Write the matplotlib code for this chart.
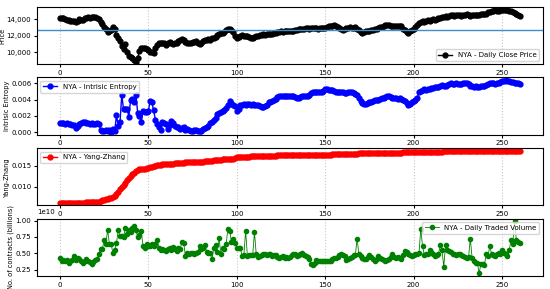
import numpy as np
import matplotlib
matplotlib.use("Agg")
import matplotlib.pyplot as plt
from matplotlib.ticker import StrMethodFormatter, MultipleLocator

# NYA daily series
price = [
    14150, 14120, 14150, 14050, 13950, 13880, 13850, 13870, 13800, 13700,
    13850, 14000, 13900, 13950, 14150, 14200, 14250, 14200, 14280, 14250,
    14250, 14200, 14000, 13700, 13400, 13100, 12800, 12500, 12600, 12750,
    13100, 12800, 12100, 11700, 11400, 10800, 10400, 11000, 10000, 9600,
    9500, 9300, 9100, 8880, 9300, 10200, 10600, 10500, 10500, 10400,
    10300, 10000, 10100, 9900, 10600, 10900, 11100, 11200, 11100, 11200,
    10900, 11100, 11300, 11100, 11000, 11100, 11200, 11400, 11500, 11600,
    11450, 11300, 11100, 11100, 11200, 11250, 11300, 11400, 11150, 11000,
    11100, 11400, 11450, 11500, 11600, 11550, 11700, 11800, 11900, 12100,
    12200, 12300, 12400, 12500, 12700, 12800, 12900, 12750, 12500, 12000,
    11750, 11850, 12050, 12100, 12000, 11950, 12000, 11900, 11800, 11700,
    11850, 12000, 12050, 12100, 12150, 12200, 12150, 12200, 12250, 12200,
    12200, 12300, 12350, 12450, 12500, 12550, 12500, 12550, 12600, 12550,
    12600, 12550, 12650, 12700, 12750, 12800, 12850, 12900, 12850, 12950,
    12950, 12900, 12950, 13000, 12950, 12950, 12900, 12950, 13000, 12950,
    13000, 13100, 13150, 13200, 13250, 13350, 13200, 13050, 12950, 12900,
    12750, 12850, 12950, 13000, 13050, 13000, 12950, 13050, 12900, 12700,
    12500, 12350, 12450, 12550, 12600, 12650, 12700, 12750, 12800, 12900,
    13000, 13050, 13100, 13200, 13300, 13350, 13300, 13250, 13200, 13250,
    13200, 13250, 13200, 13150, 12900, 12700, 12500, 12400, 12550, 12750,
    12850, 13100, 13350, 13550, 13700, 13800, 13750, 13850, 13900, 13850,
    13950, 14000, 13950, 14100, 14200, 14150, 14250, 14300, 14400, 14350,
    14450, 14550, 14500, 14450, 14500, 14550, 14500, 14450, 14500, 14550,
    14600, 14550, 14450, 14500, 14550, 14550, 14500, 14550, 14600, 14600,
    14650, 14700, 14900, 14950, 15050, 15050, 15100, 15000, 15050, 15100,
    15100, 15150, 15200, 15100, 15050, 15000, 14900, 14800, 14700, 14550,
    14450,
]
price_line = 12760

entropy = [
    0.0011, 0.0011, 0.0011, 0.0010, 0.0011, 0.0010, 0.0010, 0.0009, 0.0009, 0.0005,
    0.0008, 0.0010, 0.0011, 0.0012, 0.0012, 0.0011, 0.0011, 0.0010, 0.0011, 0.0010,
    0.0010, 0.0011, 0.0010, 0.0003, 0.0002, 0.0002, 0.0003, 0.0002, 0.0003, 0.0000,
    0.0004, 0.0001, 0.0021, 0.0008, 0.0012, 0.0046, 0.0028, 0.0028, 0.0029, 0.0019,
    0.0040, 0.0041, 0.0037, 0.0046, 0.0024, 0.0020, 0.0012, 0.0026, 0.0025, 0.0025,
    0.0026, 0.0038, 0.0037, 0.0027, 0.0015, 0.0010, 0.0006, 0.0003, 0.0012, 0.0011,
    0.0010, 0.0004, 0.0009, 0.0014, 0.0011, 0.0008, 0.0006, 0.0007, 0.0004, 0.0005,
    0.0007, 0.0003, 0.0004, 0.0003, 0.0002, 0.0002, 0.0003, 0.0003, 0.0001, 0.0001,
    0.0002, 0.0004, 0.0005, 0.0006, 0.0008, 0.0011, 0.0012, 0.0015, 0.0018, 0.0022,
    0.0024, 0.0025, 0.0026, 0.0027, 0.0030, 0.0034, 0.0038, 0.0036, 0.0034, 0.0032,
    0.0026, 0.0029, 0.0033, 0.0034, 0.0035, 0.0034, 0.0035, 0.0035, 0.0034, 0.0035,
    0.0034, 0.0034, 0.0033, 0.0032, 0.0031, 0.0031, 0.0032, 0.0034, 0.0037, 0.0037,
    0.0038, 0.0039, 0.0041, 0.0043, 0.0044, 0.0045, 0.0045, 0.0045, 0.0044, 0.0045,
    0.0045, 0.0044, 0.0045, 0.0043, 0.0042, 0.0042, 0.0043, 0.0044, 0.0044, 0.0044,
    0.0044, 0.0046, 0.0048, 0.0050, 0.0050, 0.0049, 0.0049, 0.0049, 0.0050, 0.0051,
    0.0053, 0.0053, 0.0052, 0.0052, 0.0052, 0.0051, 0.0050, 0.0050, 0.0050, 0.0050,
    0.0049, 0.0048, 0.0048, 0.0049, 0.0049, 0.0049, 0.0048, 0.0047, 0.0046, 0.0042,
    0.0038, 0.0036, 0.0035, 0.0035, 0.0036, 0.0037, 0.0037, 0.0038, 0.0039, 0.0040,
    0.0040, 0.0041, 0.0042, 0.0042, 0.0043, 0.0044, 0.0044, 0.0043, 0.0042, 0.0042,
    0.0042, 0.0041, 0.0042, 0.0041, 0.0040, 0.0038, 0.0036, 0.0034, 0.0035, 0.0037,
    0.0038, 0.0040, 0.0042, 0.0049, 0.0051, 0.0052, 0.0053, 0.0052, 0.0053, 0.0053,
    0.0054, 0.0054, 0.0055, 0.0055, 0.0056, 0.0057, 0.0058, 0.0057, 0.0057, 0.0058,
    0.0059, 0.0060, 0.0059, 0.0059, 0.0060, 0.0059, 0.0059, 0.0059, 0.0060, 0.0060,
    0.0060, 0.0059, 0.0057, 0.0057, 0.0056, 0.0057, 0.0056, 0.0056, 0.0057, 0.0057,
    0.0057, 0.0058, 0.0059, 0.0060, 0.0060, 0.0060, 0.0059, 0.0060, 0.0061, 0.0062,
    0.0063, 0.0063, 0.0064, 0.0063, 0.0063, 0.0062, 0.0062, 0.0061, 0.0061, 0.0060,
    0.0059,
]

yang_zhang = [
    0.0061, 0.0061, 0.0061, 0.0061, 0.0061, 0.0061, 0.0061, 0.0061, 0.0061, 0.0061,
    0.0061, 0.0061, 0.0061, 0.0061, 0.0061, 0.0062, 0.0062, 0.0062, 0.0062, 0.0062,
    0.0062, 0.0063, 0.0064, 0.0065, 0.0067, 0.0068, 0.0069, 0.0071, 0.0072, 0.0073,
    0.0075, 0.0078, 0.0082, 0.0088, 0.0093, 0.0098, 0.0104, 0.0109, 0.0115, 0.0120,
    0.0125, 0.0129, 0.0133, 0.0137, 0.0139, 0.0141, 0.0142, 0.0143, 0.0143, 0.0144,
    0.0144, 0.0146, 0.0148, 0.0150, 0.0150, 0.0151, 0.0152, 0.0152, 0.0153, 0.0153,
    0.0154, 0.0154, 0.0155, 0.0155, 0.0155, 0.0156, 0.0156, 0.0156, 0.0157, 0.0157,
    0.0157, 0.0158, 0.0158, 0.0158, 0.0158, 0.0159, 0.0159, 0.0159, 0.0159, 0.0160,
    0.0160, 0.0160, 0.0161, 0.0161, 0.0161, 0.0162, 0.0162, 0.0163, 0.0163, 0.0164,
    0.0164, 0.0164, 0.0165, 0.0165, 0.0165, 0.0165, 0.0166, 0.0166, 0.0166, 0.0168,
    0.0170, 0.0171, 0.0172, 0.0172, 0.0172, 0.0172, 0.0172, 0.0172, 0.0173, 0.0173,
    0.0173, 0.0173, 0.0173, 0.0173, 0.0174, 0.0174, 0.0174, 0.0174, 0.0174, 0.0174,
    0.0174, 0.0174, 0.0174, 0.0175, 0.0175, 0.0175, 0.0175, 0.0175, 0.0175, 0.0175,
    0.0175, 0.0175, 0.0175, 0.0175, 0.0175, 0.0175, 0.0175, 0.0175, 0.0175, 0.0175,
    0.0175, 0.0175, 0.0175, 0.0175, 0.0175, 0.0176, 0.0176, 0.0176, 0.0176, 0.0176,
    0.0176, 0.0176, 0.0176, 0.0176, 0.0177, 0.0177, 0.0177, 0.0177, 0.0177, 0.0177,
    0.0177, 0.0178, 0.0178, 0.0178, 0.0178, 0.0179, 0.0179, 0.0179, 0.0179, 0.0180,
    0.0180, 0.0180, 0.0180, 0.0180, 0.0180, 0.0180, 0.0180, 0.0180, 0.0181, 0.0181,
    0.0181, 0.0181, 0.0181, 0.0181, 0.0181, 0.0181, 0.0181, 0.0181, 0.0181, 0.0181,
    0.0181, 0.0181, 0.0181, 0.0181, 0.0182, 0.0182, 0.0182, 0.0182, 0.0182, 0.0183,
    0.0183, 0.0183, 0.0183, 0.0184, 0.0184, 0.0184, 0.0184, 0.0184, 0.0184, 0.0184,
    0.0184, 0.0184, 0.0184, 0.0184, 0.0184, 0.0184, 0.0184, 0.0185, 0.0185, 0.0185,
    0.0185, 0.0185, 0.0185, 0.0185, 0.0185, 0.0185, 0.0185, 0.0185, 0.0185, 0.0185,
    0.0185, 0.0185, 0.0185, 0.0185, 0.0185, 0.0185, 0.0185, 0.0185, 0.0185, 0.0185,
    0.0185, 0.0185, 0.0186, 0.0186, 0.0186, 0.0186, 0.0186, 0.0186, 0.0186, 0.0186,
    0.0186, 0.0186, 0.0186, 0.0186, 0.0186, 0.0186, 0.0186, 0.0186, 0.0186, 0.0186,
    0.0186,
]

# daily traded volume, in units of 1e10 contracts
volume = [
    0.425, 0.385, 0.395, 0.385, 0.395, 0.36, 0.385, 0.40, 0.46, 0.40,
    0.425, 0.41, 0.385, 0.36, 0.385, 0.41, 0.39, 0.37, 0.345, 0.375,
    0.395, 0.41, 0.485, 0.57, 0.56, 0.71, 0.645, 0.86, 0.645, 0.645,
    0.50, 0.545, 0.66, 0.85, 0.76, 0.77, 0.745, 0.885, 0.795, 0.86,
    0.825, 0.885, 0.91, 0.86, 0.745, 0.775, 0.835, 0.62, 0.585, 0.645,
    0.61, 0.62, 0.645, 0.61, 0.645, 0.71, 0.585, 0.545, 0.56, 0.545,
    0.535, 0.56, 0.585, 0.545, 0.595, 0.57, 0.535, 0.575, 0.565, 0.675,
    0.655, 0.46, 0.50, 0.49, 0.51, 0.50, 0.485, 0.50, 0.525, 0.61,
    0.565, 0.575, 0.635, 0.525, 0.51, 0.50, 0.41, 0.585, 0.625, 0.515,
    0.735, 0.485, 0.585, 0.565, 0.645, 0.875, 0.845, 0.675, 0.725, 0.66,
    0.585, 0.585, 0.585, 0.46, 0.475, 0.845, 0.46, 0.47, 0.475, 0.47,
    0.825, 0.485, 0.445, 0.46, 0.475, 0.485, 0.495, 0.475, 0.485, 0.495,
    0.46, 0.48, 0.475, 0.445, 0.435, 0.45, 0.46, 0.435, 0.44, 0.435,
    0.445, 0.47, 0.485, 0.495, 0.46, 0.48, 0.495, 0.51, 0.475, 0.46,
    0.445, 0.42, 0.345, 0.325, 0.36, 0.395, 0.39, 0.385, 0.38, 0.39,
    0.385, 0.385, 0.39, 0.39, 0.41, 0.425, 0.435, 0.445, 0.47, 0.495,
    0.475, 0.46, 0.395, 0.41, 0.425, 0.45, 0.475, 0.47, 0.725, 0.485,
    0.46, 0.435, 0.42, 0.41, 0.44, 0.475, 0.44, 0.41, 0.385, 0.42,
    0.46, 0.43, 0.41, 0.395, 0.385, 0.40, 0.41, 0.45, 0.485, 0.45,
    0.425, 0.445, 0.43, 0.41, 0.47, 0.535, 0.515, 0.495, 0.47, 0.46,
    0.48, 0.495, 0.495, 0.50, 0.875, 0.61, 0.475, 0.485, 0.495, 0.545,
    0.52, 0.495, 0.46, 0.48, 0.495, 0.625, 0.545, 0.295, 0.625, 0.545,
    0.53, 0.525, 0.495, 0.485, 0.475, 0.485, 0.495, 0.475, 0.46, 0.45,
    0.435, 0.44, 0.725, 0.435, 0.385, 0.36, 0.36, 0.195, 0.345, 0.335,
    0.325, 0.495, 0.46, 0.61, 0.495, 0.48, 0.46, 0.485, 0.51, 0.485,
    0.545, 0.51, 0.49, 0.46, 0.545, 0.71, 0.645, 0.99, 0.71, 0.675,
    0.66,
]

days = np.arange(len(price))
fs = 5
lab_fs = 4.8

fig, axes = plt.subplots(4, 1, figsize=(5.5, 2.89), dpi=100)
plt.subplots_adjust(left=0.067, right=0.987, top=0.976, bottom=0.045, hspace=0.23)

ax = axes[0]
ax.plot(days, price, color='black', marker='o', markersize=3.5, lw=1,
        label='NYA - Daily Close Price')
ax.axhline(price_line, color='#3b8ed0', lw=1)
ax.yaxis.set_major_locator(MultipleLocator(2000))
ax.yaxis.set_major_formatter(StrMethodFormatter('{x:,.0f}'))
ax.set_ylabel('Price', fontsize=lab_fs, labelpad=1)
ax.legend(loc='lower right', fontsize=fs)

ax = axes[1]
ax.plot(days, entropy, color='blue', marker='o', markersize=3.5, lw=1,
        label='NYA - Intrisic Entropy')
ax.yaxis.set_major_locator(MultipleLocator(0.002))
ax.yaxis.set_major_formatter(StrMethodFormatter('{x:.3f}'))
ax.set_ylabel('Intrisic Entropy', fontsize=lab_fs, labelpad=1)
ax.legend(loc='upper left', fontsize=fs)

ax = axes[2]
ax.plot(days, yang_zhang, color='red', marker='o', markersize=3.5, lw=1,
        label='NYA - Yang-Zhang')
ax.yaxis.set_major_locator(MultipleLocator(0.005))
ax.yaxis.set_major_formatter(StrMethodFormatter('{x:.3f}'))
ax.set_ylabel('Yang-Zhang', fontsize=lab_fs, labelpad=1)
ax.legend(loc='upper left', fontsize=fs)

ax = axes[3]
ax.plot(days, np.array(volume) * 1e10, color='green', marker='o', markersize=3,
        lw=0.6, label='NYA - Daily Traded Volume')
ax.yaxis.set_major_locator(MultipleLocator(0.25e10))
ax.set_ylabel('No. of contracts (billions)', fontsize=lab_fs, labelpad=1)
ax.legend(loc='upper right', fontsize=fs)
ax.yaxis.get_offset_text().set_fontsize(fs)

for ax in axes:
    ax.tick_params(labelsize=fs, length=2.5, pad=1.5)
    ax.xaxis.grid(True, linestyle=':', color='#c8c8c8', lw=0.8)
    ax.set_xticks([0, 50, 100, 150, 200, 250])

plt.savefig('out.png', dpi=100)
